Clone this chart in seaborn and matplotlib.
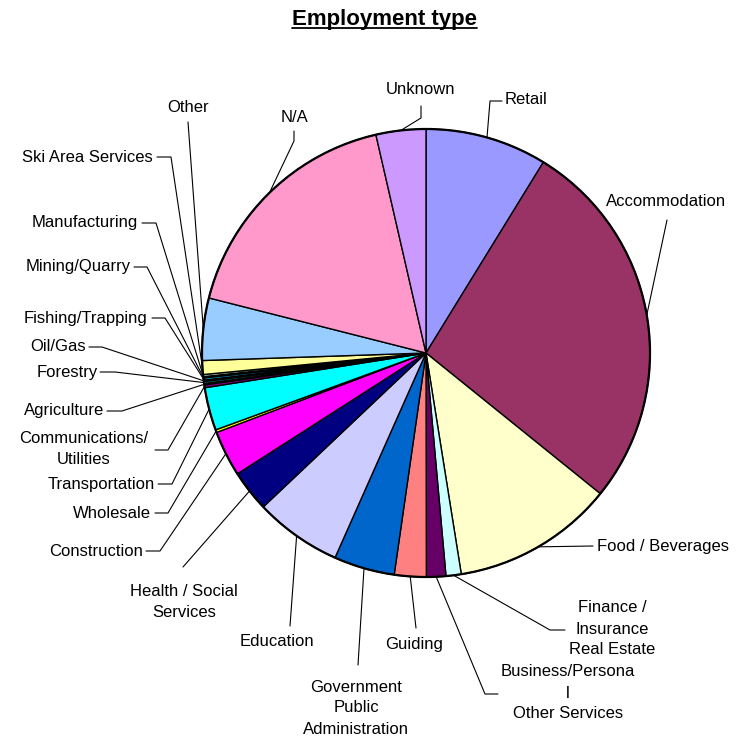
import matplotlib
matplotlib.use("Agg")
import matplotlib.pyplot as plt
import seaborn as sns
import numpy as np
from matplotlib.lines import Line2D
from matplotlib.patches import Circle

# Data (clockwise from 12 o'clock), percent of respondents
categories = ["Retail", "Accommodation", "Food / Beverages", "Finance / Insurance Real Estate",
              "Business/Personal Other Services", "Guiding", "Government Public Administration",
              "Education", "Health / Social Services", "Construction", "Wholesale",
              "Transportation", "Communications/ Utilities", "Agriculture", "Forestry",
              "Oil/Gas", "Fishing/Trapping", "Mining/Quarry", "Manufacturing",
              "Ski Area Services", "Other", "N/A", "Unknown"]
shares = [8.8, 27.1, 11.7, 1.1, 1.4, 2.3, 4.4, 6.3, 3.0, 3.3, 0.2, 3.1,
          0.2, 0.1, 0.15, 0.1, 0.15, 0.1, 0.15, 1.0, 4.5, 17.5, 3.6]
label_texts = ["Retail", "Accommodation", "Food / Beverages", "Finance /\nInsurance\nReal Estate",
               "Business/Persona\nl\nOther Services", "Guiding", "Government\nPublic\nAdministration",
               "Education", "Health / Social\nServices", "Construction", "Wholesale",
               "Transportation", "Communications/\nUtilities", "Agriculture", "Forestry",
               "Oil/Gas", "Fishing/Trapping", "Mining/Quarry", "Manufacturing",
               "Ski Area Services", "Other", "N/A", "Unknown"]
colors = ["#9999FF", "#993366", "#FFFFCC", "#CCFFFF", "#660066", "#FF8080", "#0066CC",
          "#CCCCFF", "#000080", "#FF00FF", "#FFFF00", "#00FFFF", "#800080", "#800000",
          "#008080", "#0000FF", "#00CCFF", "#CCFFFF", "#CCFFCC", "#FFFF99", "#99CCFF",
          "#FF99CC", "#CC99FF"]

# label layout in pixels: text x, text y, alignment, leader points (label side first)
label_layout = [
    (505, 100, "left", [(502, 101), (490, 101)]),
    (666, 201, "center", [(667, 220)]),
    (597, 546, "left", [(593, 546)]),
    (612, 629, "center", [(565, 630), (550, 630)]),
    (568, 693, "center", [(498, 694), (485, 694)]),
    (414, 645, "center", [(416, 628)]),
    (356, 708, "center", [(358, 665)]),
    (277, 642, "center", [(290, 626)]),
    (184, 602, "center", [(183, 567)]),
    (143, 551, "right", [(146, 551), (160, 551)]),
    (151, 513, "right", [(155, 513), (168, 513)]),
    (155, 484, "right", [(158, 484), (172, 484)]),
    (84, 449, "center", [(155, 450), (168, 450)]),
    (104, 410, "right", [(107, 411), (122, 411)]),
    (98, 372, "right", [(100, 372), (115, 372)]),
    (86, 347, "right", [(89, 347), (102, 347)]),
    (147, 318, "right", [(152, 318), (165, 318)]),
    (131, 267, "right", [(134, 267), (147, 267)]),
    (138, 223, "right", [(142, 223), (156, 223)]),
    (153, 157, "right", [(157, 157), (171, 157)]),
    (188, 107, "center", [(188, 122)]),
    (294, 117, "center", [(294, 131), (294, 141)]),
    (420, 90, "center", [(421, 106), (421, 118)]),
]

sns.set_theme(style="white")
plt.rcParams["font.family"] = ["Liberation Sans", "DejaVu Sans"]

W, H = 744, 738
fig = plt.figure(figsize=(W / 100, H / 100), dpi=100)
fig.patch.set_facecolor("white")


def fig_xy(x, y):
    return x / W, 1 - y / H


# pie geometry in pixels
cx, cy, r = 426, 353, 224
pad = 1.05
ax = fig.add_axes([(cx - r * pad) / W, (H - cy - r * pad) / H, 2 * r * pad / W, 2 * r * pad / H])
wedges, _ = ax.pie(shares, colors=colors, startangle=90, counterclock=False,
                   wedgeprops=dict(edgecolor="black", linewidth=1.0))
ax.add_patch(Circle((0, 0), 1, facecolor="none", edgecolor="black", linewidth=1.6))
ax.set_xlim(-pad, pad)
ax.set_ylim(-pad, pad)
ax.set_aspect("equal")
ax.axis("off")

to_fig = fig.transFigure.inverted()
for w, text, (tx, ty, ha, pts) in zip(wedges, label_texts, label_layout):
    mid = np.deg2rad((w.theta1 + w.theta2) / 2)
    anchor_disp = ax.transData.transform((np.cos(mid), np.sin(mid)))
    ax_, ay_ = to_fig.transform(anchor_disp)
    xs = [fig_xy(px, py)[0] for px, py in pts] + [ax_]
    ys = [fig_xy(px, py)[1] for px, py in pts] + [ay_]
    fig.add_artist(Line2D(xs, ys, transform=fig.transFigure, color="black", linewidth=0.8))
    fx, fy = fig_xy(tx, ty)
    fig.text(fx, fy, text, ha=ha, va="center", multialignment="center",
             fontsize=12, color="black", linespacing=1.5)

# underlined title
tx, ty = fig_xy(384, 25)
title = fig.text(tx, ty, "Employment type", ha="center", va="baseline",
                 fontsize=16, fontweight="bold", color="black")
fig.canvas.draw()
bb = title.get_window_extent()
x0, _ = to_fig.transform((bb.x0, 0))
x1, _ = to_fig.transform((bb.x1, 0))
uy = fig_xy(0, 28)[1]
fig.add_artist(Line2D([x0, x1], [uy, uy], transform=fig.transFigure, color="black", linewidth=1.3))

fig.savefig("out.png", dpi=100, facecolor="white")
plt.close(fig)
